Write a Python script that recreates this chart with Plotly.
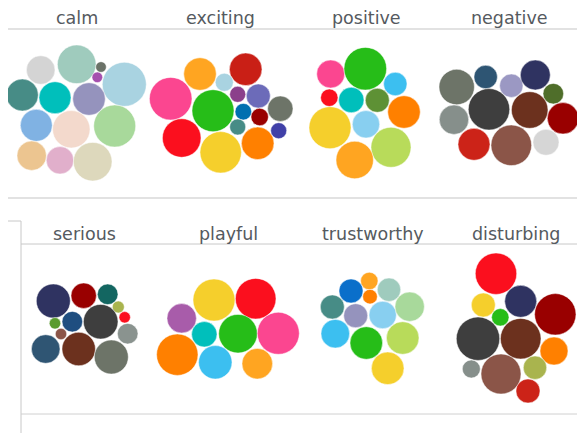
import plotly.graph_objects as go

# ---- panel titles and title anchor points ----
panels = ["calm", "exciting", "positive", "negative",
          "serious", "playful", "trustworthy", "disturbing"]
title_x = [77, 220, 366, 509.5, 84, 228, 372.5, 516]
title_y = [18, 18, 18, 18, 233.5, 233.5, 233.5, 233.5]

# ---- bubble values (relative size) per panel ----
calm_val = [14.3, 19.3, 5.3, 5.3, 22, 16, 16, 16.3, 16, 18.7, 21, 14.7, 13.7, 19.3]
exciting_val = [16.3, 16.3, 9, 21.3, 21, 8, 12, 12.7, 8.3, 8.7, 8, 19.3, 20.7, 16.3, 8]
positive_val = [14, 21.3, 11.7, 8.7, 12.7, 12, 16.3, 21, 13.7, 20, 18.7]
negative_val = [17.7, 11.7, 11.7, 15, 10.3, 14.7, 20.7, 18.3, 15.7, 16, 20.3, 13]
serious_val = [17, 12.7, 10.3, 6, 5.7, 5.7, 10.3, 17.3, 10.3, 5.7, 14.3, 16.7, 17]
playful_val = [14.7, 21, 20.3, 12.7, 19.3, 21, 20.7, 16.7, 15.3]
trust_val = [8.7, 12, 7.3, 11.7, 12, 12, 13.7, 14.7, 14.3, 16.3, 16.3, 16.3]
disturb_val = [20.7, 12, 16, 8.7, 20.7, 21.7, 20.3, 14, 9, 20, 11.7, 12]

# ---- bubble colours per panel ----
calm_col = ["#d4d4d4", "#9fcbbd", "#6b7268", "#a54fae", "#a9d3e1", "#478c86",
            "#00bfbb", "#9593bd", "#80b2e3", "#f3d9cc", "#a8d99b", "#ecc590",
            "#e1afcb", "#ddd8bc"]
exciting_col = ["#ffa521", "#c91f16", "#a9d3e1", "#fb4690", "#26bd18", "#8b3f8b",
                "#6c6bb9", "#6d7468", "#0070b0", "#990000", "#478c86", "#fb0f1e",
                "#f5cf2c", "#ff8000", "#4040a8"]
positive_col = ["#fb4690", "#26bd18", "#3cbff0", "#fb0f1e", "#00bfbb", "#5e9135",
                "#ff8000", "#f5cf2c", "#88cff0", "#b8db5a", "#ffa521"]
negative_col = ["#6d7468", "#2e5573", "#9b98c3", "#2f3361", "#4f6e2a", "#868f8b",
                "#3e3e3e", "#6c311e", "#990000", "#cc2318", "#8b5548", "#d6d6d6"]
serious_col = ["#2f3361", "#990000", "#136661", "#a9b44e", "#fb0f1e", "#5a9a2e",
               "#1f4e80", "#3e3e3e", "#8a938f", "#8b5548", "#2f5573", "#6c311e",
               "#6d7468"]
playful_col = ["#a85caa", "#f5cf2c", "#fb0f1e", "#00bfbb", "#26bd18", "#fb4690",
               "#ff8000", "#3cbff0", "#ffa521"]
trust_col = ["#ffa521", "#0a6fca", "#ff8000", "#9fcbbd", "#478c86", "#9593bd",
             "#88cff0", "#a8d99b", "#3cbff0", "#26bd18", "#b8db5a", "#f5cf2c"]
disturb_col = ["#fb0f1e", "#f5cf2c", "#2f3361", "#26bd18", "#990000", "#3e3e3e",
               "#6c311e", "#ff8000", "#868f8b", "#8b5548", "#a9b44e", "#cc2318"]

# ---- packed-bubble layout positions (pixel space of the page) ----
calm_x = [40.7, 76.7, 101, 97.3, 124.3, 22.3, 55, 89, 36.3, 71.3, 114.7, 31.7, 60, 92.7]
calm_y = [70, 64.3, 67, 77.3, 84.3, 95, 97.7, 99, 125.3, 129.3, 126, 155.7, 160.3, 161.7]
exciting_x = [200, 245.7, 224.3, 170.7, 213, 237.7, 258.3, 280.3, 243.3, 259.7, 237.7,
              181.7, 220.7, 257.7, 278.7]
exciting_y = [74, 69.3, 82.3, 98.7, 110.7, 94.3, 96, 108.7, 111.7, 117, 127, 138,
              152.3, 143.3, 130.7]
positive_x = [330.7, 365.3, 395.3, 329.3, 351.3, 377.3, 404, 330, 366, 391, 354.7]
positive_y = [74, 68.7, 84, 97.7, 100, 100.3, 112, 127.7, 124.3, 147.3, 160]
negative_x = [456.7, 485.7, 511.3, 535.3, 553.3, 454, 489, 529.7, 563, 474, 511.3, 546]
negative_y = [87, 77, 85.7, 75, 93.7, 119.7, 109.3, 110, 118.3, 144.3, 145.3, 142.3]
serious_x = [53.3, 83.7, 107.7, 118.3, 124.7, 55, 72.3, 100.7, 127.7, 61, 45.7, 78.7, 111.3]
serious_y = [301, 295.7, 294.3, 307, 317.3, 323.3, 321.7, 321.7, 333.7, 334, 349, 349, 357]
playful_x = [181.7, 214, 255.7, 204.3, 238, 278.3, 177.3, 215.3, 257.3]
playful_y = [318.3, 300, 298.7, 334.3, 333.7, 333.3, 354.7, 362.3, 363.7]
trust_x = [369.3, 351, 370, 389, 332.3, 355.7, 382.7, 409.7, 335.3, 366.3, 402.7, 387.7]
trust_y = [281, 291, 296.7, 289.7, 307, 315.7, 315, 306.7, 333.7, 343, 338, 368.3]
disturb_x = [496, 483.3, 520.7, 500.3, 555.3, 478, 520.7, 554, 471.3, 501, 535, 528]
disturb_y = [273.7, 305, 301.3, 317.3, 314.3, 338.7, 338.7, 351, 369, 374, 367.7, 391]

values = [calm_val, exciting_val, positive_val, negative_val,
          serious_val, playful_val, trust_val, disturb_val]
colors = [calm_col, exciting_col, positive_col, negative_col,
          serious_col, playful_col, trust_col, disturb_col]
xs = [calm_x, exciting_x, positive_x, negative_x, serious_x, playful_x, trust_x, disturb_x]
ys = [calm_y, exciting_y, positive_y, negative_y, serious_y, playful_y, trust_y, disturb_y]

# page is 585x433; the html body has an 8px margin, so the figure starts at (8, 8)
W, H = 585, 433
OFF = 8
fig = go.Figure()

for name, v, c, x, y in zip(panels, values, colors, xs, ys):
    fig.add_trace(go.Scatter(
        x=x, y=y, mode="markers", name=name,
        marker=dict(size=[2 * s for s in v], sizemode="diameter", color=c,
                    opacity=1, line=dict(width=0.6, color="rgba(255,255,255,0.8)")),
        hoverinfo="skip", showlegend=False,
    ))

grid = "#d9d9d9"
shapes = [
    dict(type="line", x0=5, x1=W, y0=29, y1=29, line=dict(color=grid, width=1.5)),
    dict(type="line", x0=5, x1=W, y0=198, y1=198, line=dict(color=grid, width=1.5)),
    dict(type="line", x0=5, x1=21, y0=221, y1=221, line=dict(color="#c8c8c8", width=1)),
    dict(type="line", x0=21, x1=21, y0=221, y1=H, line=dict(color="#c8c8c8", width=1)),
    dict(type="line", x0=21, x1=W, y0=244, y1=244, line=dict(color="#c8c8c8", width=1)),
    dict(type="line", x0=21, x1=W, y0=414, y1=414, line=dict(color="#d0d0d0", width=1)),
]
for s in shapes:
    s.update(xref="x", yref="y", layer="below")

annotations = [dict(x=tx, y=ty, text=t, showarrow=False, xref="x", yref="y",
                    xanchor="center", yanchor="middle",
                    font=dict(family="DejaVu Sans", size=17.5, color="#555a60"))
               for t, tx, ty in zip(panels, title_x, title_y)]

fig.update_layout(
    width=W - OFF, height=H - OFF, margin=dict(l=0, r=0, t=0, b=0),
    paper_bgcolor="white", plot_bgcolor="white",
    xaxis=dict(range=[OFF, W], visible=False, fixedrange=True),
    yaxis=dict(range=[H, OFF], visible=False, fixedrange=True),
    shapes=shapes, annotations=annotations,
)

fig.write_html("out.html")
